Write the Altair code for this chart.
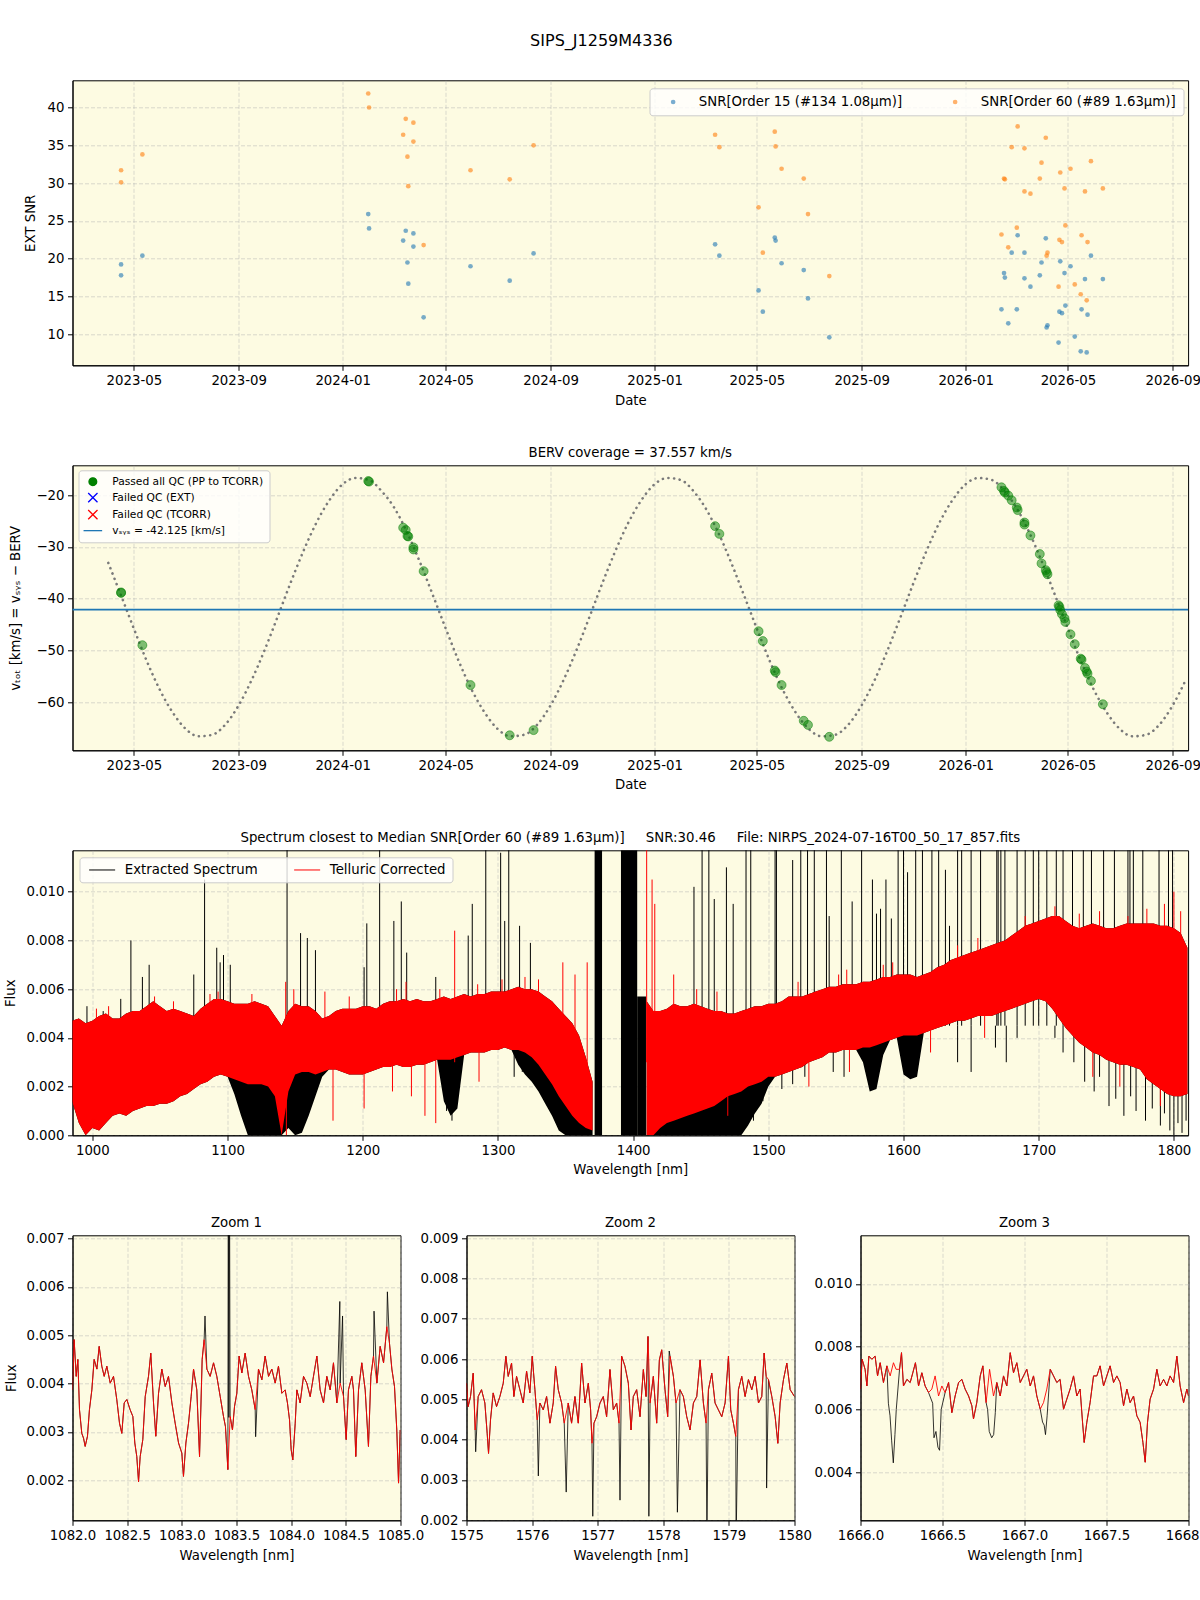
import altair as alt
import pandas as pd

FONT = "DejaVu Sans"
BG = "#fdfbe2"

# ---------------- observations (one row per exposure) ----------------
obs_date = ["2023/04/16", "2023/04/16", "2023/05/11",
            "2024/01/31", "2024/02/01", "2024/03/12", "2024/03/15", "2024/03/17", "2024/03/18",
            "2024/03/24", "2024/03/24", "2024/04/05", "2024/05/30", "2024/07/15", "2024/08/12",
            "2025/03/13", "2025/03/18", "2025/05/03", "2025/05/08", "2025/05/22", "2025/05/23",
            "2025/05/30", "2025/06/25", "2025/06/30", "2025/07/25",
            "2026/02/12", "2026/02/15", "2026/02/16", "2026/02/20", "2026/02/24", "2026/03/02",
            "2026/03/03", "2026/03/11", "2026/03/11", "2026/03/18", "2026/03/29", "2026/03/31",
            "2026/04/05", "2026/04/06", "2026/04/07", "2026/04/20", "2026/04/21", "2026/04/22",
            "2026/04/24", "2026/04/27", "2026/04/28", "2026/05/04", "2026/05/09", "2026/05/16",
            "2026/05/17", "2026/05/21", "2026/05/23", "2026/05/24", "2026/05/28", "2026/06/11"]
snr_order15 = [19.25, 17.8, 20.4,
               25.9, 24.0, 22.4, 23.7, 19.5, 16.7, 23.35, 21.6, 12.25, 19.0, 17.1, 20.7,
               21.9, 20.4, 15.8, 13.0, 22.8, 22.4, 19.4, 18.5, 14.75, 9.6,
               13.3, 18.1, 17.5, 11.45, 20.8, 13.3, 23.1, 20.8, 17.4, 16.3, 17.8, 19.5,
               22.7, 10.9, 11.2, 8.9, 13.0, 19.65, 12.8, 18.1, 13.8, 19.0, 9.7, 7.75,
               13.3, 17.3, 7.6, 12.6, 20.4, 17.3]
snr_order60 = [31.7, 30.1, 33.8,
               41.85, 40.0, 36.4, 38.5, 33.5, 29.6, 38.0, 35.5, 21.8, 31.7, 30.5, 35.0,
               36.4, 34.75, 26.8, 20.8, 36.8, 34.85, 31.9, 30.6, 25.9, 17.7,
               23.2, 30.6, 30.5, 21.5, 34.75, 24.1, 37.5, 34.6, 28.9, 28.6, 30.6, 32.7,
               36.0, 20.4, 20.8, 16.3, 22.5, 31.4, 22.2, 29.3, 24.4, 31.9, 16.6, 15.3,
               23.1, 28.9, 14.5, 22.2, 32.9, 29.3]
v_tot = [-38.8, -38.9, -49.0,
         -17.3, -17.4, -26.3, -26.75, -27.9, -28.0, -30.1, -30.5, -34.7, -56.7, -66.4, -65.4,
         -26.0, -27.5, -46.3, -48.2, -53.9, -54.2, -56.7, -63.6, -64.4, -66.7,
         -18.5, -19.2, -19.5, -20.1, -21.0, -22.4, -22.9, -25.3, -25.7, -27.8, -31.4, -33.2,
         -34.5, -34.9, -35.3, -41.3, -41.6, -42.2, -43.0, -43.8, -44.5, -46.9, -48.8, -51.6,
         -51.8, -53.4, -54.1, -54.5, -55.9, -60.4]
v_sys = -42.125

# ---------------- BERV model curve (read twice a month) ----------------
curve_date = ["2023/04/01", "2023/04/16", "2023/05/01", "2023/05/16", "2023/06/01", "2023/06/16",
              "2023/07/01", "2023/07/16", "2023/08/01", "2023/08/16", "2023/09/01", "2023/09/16",
              "2023/10/01", "2023/10/16", "2023/11/01", "2023/11/16", "2023/12/01", "2023/12/16",
              "2024/01/01", "2024/01/16", "2024/02/01", "2024/02/16", "2024/03/01", "2024/03/16",
              "2024/04/01", "2024/04/16", "2024/05/01", "2024/05/16", "2024/06/01", "2024/06/16",
              "2024/07/01", "2024/07/16", "2024/08/01", "2024/08/16", "2024/09/01", "2024/09/16",
              "2024/10/01", "2024/10/16", "2024/11/01", "2024/11/16", "2024/12/01", "2024/12/16",
              "2025/01/01", "2025/01/16", "2025/02/01", "2025/02/16", "2025/03/01", "2025/03/16",
              "2025/04/01", "2025/04/16", "2025/05/01", "2025/05/16", "2025/06/01", "2025/06/16",
              "2025/07/01", "2025/07/16", "2025/08/01", "2025/08/16", "2025/09/01", "2025/09/16",
              "2025/10/01", "2025/10/16", "2025/11/01", "2025/11/16", "2025/12/01", "2025/12/16",
              "2026/01/01", "2026/01/16", "2026/02/01", "2026/02/16", "2026/03/01", "2026/03/16",
              "2026/04/01", "2026/04/16", "2026/05/01", "2026/05/16", "2026/06/01", "2026/06/16",
              "2026/07/01", "2026/07/16", "2026/08/01", "2026/08/16", "2026/09/01", "2026/09/16"]
curve_v = [-33.1, -39.4, -45.8, -52.0, -57.8, -62.1, -65.2, -66.6, -66.3, -64.4, -60.6, -55.8,
           -50.1, -43.8, -36.9, -30.8, -25.4, -21.1,
           -17.9, -16.7, -17.1, -19.3, -22.3, -27.0, -33.1, -39.4, -45.8, -52.0, -57.8, -62.1,
           -65.2, -66.6, -66.3, -64.4, -60.6, -55.8, -50.1, -43.8, -36.9, -30.8, -25.4, -21.1,
           -17.9, -16.7, -17.1, -19.3, -22.3, -27.0, -33.1, -39.4, -45.8, -52.0, -57.8, -62.1,
           -65.2, -66.6, -66.3, -64.4, -60.6, -55.8, -50.1, -43.8, -36.9, -30.8, -25.4, -21.1,
           -17.9, -16.7, -17.1, -19.3, -22.3, -27.0, -33.1, -39.4, -45.8, -52.0, -57.8, -62.1,
           -65.2, -66.6, -66.3, -64.4, -60.6, -55.8]

# ---------------- full spectrum envelopes ----------------
wl_a = [985, 990, 995, 1000, 1005, 1010, 1015, 1020, 1025, 1030, 1035, 1040, 1045, 1050, 1055,
        1060, 1065, 1070, 1075, 1080, 1085, 1090, 1095, 1100, 1105, 1110, 1115, 1120, 1125, 1130,
        1135, 1140, 1145, 1150, 1155, 1160, 1165, 1170, 1175, 1180, 1185, 1190, 1195, 1200, 1205,
        1210, 1215, 1220, 1225, 1230, 1235, 1240, 1245, 1250, 1255, 1260, 1265, 1270, 1275, 1280,
        1285, 1290, 1295, 1300, 1305, 1310, 1315, 1320, 1325, 1330, 1335, 1340, 1345, 1350, 1355,
        1360, 1365, 1370]
red_hi_a = [0.0047, 0.0048, 0.0046, 0.0047, 0.0049, 0.0050, 0.0048, 0.0048, 0.0050, 0.0051, 0.0051,
            0.0053, 0.0055, 0.0053, 0.0051, 0.0052, 0.0051, 0.0050, 0.0049, 0.0052, 0.0054, 0.0056,
            0.0056, 0.0055, 0.0054, 0.0054, 0.0054, 0.0055, 0.0054, 0.0053, 0.0049, 0.0045, 0.0051,
            0.0054, 0.0053, 0.0053, 0.0051, 0.0048, 0.0049, 0.0051, 0.0052, 0.0052, 0.0052, 0.0053,
            0.0053, 0.0052, 0.0054, 0.0055, 0.0055, 0.0056, 0.0055, 0.0056, 0.0055, 0.0055, 0.0056,
            0.0057, 0.0056, 0.0057, 0.0058, 0.0057, 0.0058, 0.0058, 0.0059, 0.0059, 0.0059, 0.0060,
            0.0061, 0.0060, 0.0060, 0.0059, 0.0057, 0.0055, 0.0052, 0.0049, 0.0046, 0.0041, 0.0032,
            0.0022]
red_lo_a = [0.0014, 0.0005, 0.0000, 0.0003, 0.0002, 0.0005, 0.0008, 0.0009, 0.0008, 0.0010, 0.0011,
            0.0012, 0.0012, 0.0013, 0.0013, 0.0014, 0.0016, 0.0017, 0.0019, 0.0021, 0.0022, 0.0024,
            0.0025, 0.0024, 0.0023, 0.0022, 0.0021, 0.0021, 0.0021, 0.0020, 0.0016, 0.0000, 0.0018,
            0.0025, 0.0026, 0.0026, 0.0025, 0.0026, 0.0027, 0.0027, 0.0026, 0.0025, 0.0025, 0.0025,
            0.0026, 0.0027, 0.0028, 0.0028, 0.0029, 0.0028, 0.0028, 0.0029, 0.0029, 0.0030, 0.0031,
            0.0031, 0.0031, 0.0032, 0.0033, 0.0034, 0.0034, 0.0034, 0.0035, 0.0035, 0.0036, 0.0035,
            0.0035, 0.0034, 0.0032, 0.0029, 0.0025, 0.0021, 0.0016, 0.0012, 0.0008, 0.0005, 0.0003,
            0.0002]
blk_lo_a = [0.0014, 0.0005, 0.0000, 0.0003, 0.0002, 0.0005, 0.0008, 0.0009, 0.0008, 0.0010, 0.0011,
            0.0012, 0.0012, 0.0013, 0.0013, 0.0014, 0.0016, 0.0017, 0.0019, 0.0021, 0.0022, 0.0024,
            0.0025, 0.0024, 0.0017, 0.0008, 0.0000, 0.0000, 0.0000, 0.0000, 0.0000, 0.0000, 0.0003,
            0.0000, 0.0001, 0.0008, 0.0016, 0.0024, 0.0027, 0.0027, 0.0026, 0.0025, 0.0025, 0.0025,
            0.0026, 0.0027, 0.0028, 0.0028, 0.0029, 0.0028, 0.0028, 0.0029, 0.0029, 0.0030, 0.0031,
            0.0014, 0.0008, 0.0011, 0.0033, 0.0034, 0.0034, 0.0034, 0.0035, 0.0035, 0.0036, 0.0035,
            0.0029, 0.0025, 0.0022, 0.0018, 0.0013, 0.0008, 0.0002, 0.0000, 0.0000, 0.0000, 0.0000,
            0.0000]
wl_b = [1410, 1415, 1420, 1425, 1430, 1435, 1440, 1445, 1450, 1455, 1460, 1465, 1470, 1475, 1480,
        1485, 1490, 1495, 1500, 1505, 1510, 1515, 1520, 1525, 1530, 1535, 1540, 1545, 1550, 1555,
        1560, 1565, 1570, 1575, 1580, 1585, 1590, 1595, 1600, 1605, 1610, 1615, 1620, 1625, 1630,
        1635, 1640, 1645, 1650, 1655, 1660, 1665, 1670, 1675, 1680, 1685, 1690, 1695, 1700, 1705,
        1710, 1715, 1720, 1725, 1730, 1735, 1740, 1745, 1750, 1755, 1760, 1765, 1770, 1775, 1780,
        1785, 1790, 1795, 1800, 1805, 1810]
red_hi_b = [0.0055, 0.0051, 0.0051, 0.0052, 0.0054, 0.0053, 0.0053, 0.0054, 0.0053, 0.0052, 0.0051,
            0.0051, 0.0050, 0.0050, 0.0051, 0.0052, 0.0053, 0.0053, 0.0054, 0.0054, 0.0055, 0.0057,
            0.0057, 0.0057, 0.0058, 0.0059, 0.0060, 0.0061, 0.0061, 0.0062, 0.0062, 0.0062, 0.0063,
            0.0063, 0.0064, 0.0065, 0.0065, 0.0066, 0.0066, 0.0066, 0.0065, 0.0066, 0.0067, 0.0069,
            0.0070, 0.0072, 0.0073, 0.0074, 0.0075, 0.0076, 0.0077, 0.0078, 0.0079, 0.0080, 0.0082,
            0.0084, 0.0086, 0.0087, 0.0088, 0.0089, 0.0090, 0.0090, 0.0088, 0.0086, 0.0085, 0.0086,
            0.0087, 0.0086, 0.0085, 0.0085, 0.0086, 0.0087, 0.0087, 0.0087, 0.0087, 0.0087, 0.0086,
            0.0086, 0.0085, 0.0083, 0.0077]
red_lo_b = [0.0000, 0.0000, 0.0003, 0.0005, 0.0006, 0.0007, 0.0008, 0.0009, 0.0010, 0.0011, 0.0012,
            0.0014, 0.0016, 0.0017, 0.0018, 0.0020, 0.0021, 0.0022, 0.0024, 0.0024, 0.0025, 0.0026,
            0.0027, 0.0028, 0.0030, 0.0031, 0.0032, 0.0034, 0.0034, 0.0035, 0.0035, 0.0035, 0.0036,
            0.0036, 0.0037, 0.0038, 0.0039, 0.0040, 0.0041, 0.0041, 0.0041, 0.0042, 0.0043, 0.0044,
            0.0045, 0.0046, 0.0047, 0.0047, 0.0048, 0.0049, 0.0049, 0.0049, 0.0050, 0.0051, 0.0052,
            0.0053, 0.0054, 0.0055, 0.0056, 0.0055, 0.0052, 0.0048, 0.0044, 0.0041, 0.0038, 0.0036,
            0.0034, 0.0033, 0.0031, 0.0030, 0.0029, 0.0029, 0.0028, 0.0027, 0.0023, 0.0021, 0.0019,
            0.0017, 0.0016, 0.0016, 0.0017]
blk_lo_b = [0.0000, 0.0000, 0.0000, 0.0000, 0.0000, 0.0000, 0.0000, 0.0000, 0.0000, 0.0000, 0.0000,
            0.0000, 0.0000, 0.0000, 0.0000, 0.0004, 0.0009, 0.0013, 0.0020, 0.0024, 0.0025, 0.0026,
            0.0027, 0.0028, 0.0030, 0.0031, 0.0032, 0.0034, 0.0034, 0.0035, 0.0035, 0.0035, 0.0030,
            0.0018, 0.0019, 0.0033, 0.0039, 0.0040, 0.0025, 0.0023, 0.0024, 0.0042, 0.0043, 0.0044,
            0.0045, 0.0046, 0.0047, 0.0047, 0.0048, 0.0049, 0.0049, 0.0049, 0.0050, 0.0051, 0.0052,
            0.0053, 0.0054, 0.0055, 0.0056, 0.0055, 0.0052, 0.0048, 0.0044, 0.0041, 0.0038, 0.0036,
            0.0034, 0.0033, 0.0031, 0.0030, 0.0029, 0.0029, 0.0028, 0.0027, 0.0023, 0.0021, 0.0019,
            0.0017, 0.0016, 0.0016, 0.0017]
# deep narrow absorption lines of the extracted spectrum below the corrected band
blk_dip_wl = [1262, 1266, 1268, 1312, 1318, 1446, 1452, 1458, 1463, 1468, 1474, 1479, 1486, 1489,
              1492, 1496, 1510, 1518, 1527, 1548, 1556, 1640, 1650, 1668, 1676, 1684, 1712, 1718,
              1726, 1734, 1741, 1745, 1752, 1757, 1763, 1768, 1772, 1779, 1784, 1790, 1793, 1797,
              1800, 1803, 1806, 1809]
blk_dip_lo = [0.0010, 0.0006, 0.0012, 0.0024, 0.0026, 0.0005, 0.0003, 0.0002, 0.0006, 0.0004,
              0.0007, 0.0003, 0.0009, 0.0006, 0.0011, 0.0014, 0.0019, 0.0021, 0.0024, 0.0026,
              0.0024, 0.0030, 0.0026, 0.0036, 0.0030, 0.0040, 0.0040, 0.0034, 0.0030, 0.0022,
              0.0018, 0.0024, 0.0012, 0.0015, 0.0008, 0.0016, 0.0010, 0.0006, 0.0011, 0.0004,
              0.0009, 0.0002, 0.0000, 0.0005, 0.0001, 0.0006]
# saturated black blocks of the extracted spectrum (no telluric correction there)
blk_col_start = [1371.5, 1391.0, 1403.0]
blk_col_end = [1377.0, 1403.0, 1409.5]
blk_col_top = [0.0117, 0.0117, 0.0057]
# emission spikes of the extracted spectrum
blk_spike_wl = [996, 1008, 1021, 1028.5, 1037, 1042, 1075, 1083, 1092, 1094.5, 1097, 1102, 1144,
                1154, 1159, 1165, 1201, 1203, 1212.5, 1223, 1228.5, 1232.5, 1254, 1278, 1281, 1291,
                1302, 1305, 1308, 1316, 1324, 1445, 1451, 1456, 1460, 1469, 1474, 1483.5, 1487,
                1505, 1506, 1518, 1524, 1529, 1534, 1543, 1545, 1554, 1562, 1569, 1577, 1580, 1583,
                1587, 1591, 1596, 1600, 1603, 1609, 1614, 1621, 1626, 1631, 1634, 1640, 1643, 1650,
                1657, 1669, 1670, 1672, 1675, 1684, 1690, 1696, 1700, 1706, 1713, 1718, 1725, 1733,
                1739, 1748, 1756, 1766, 1767.5, 1770, 1777, 1789, 1796, 1799]
blk_spike_top = [0.0053, 0.0051, 0.0056, 0.0080, 0.0065, 0.0070, 0.0066, 0.0105, 0.0077, 0.0071,
                 0.0074, 0.0070, 0.0125, 0.0083, 0.0081, 0.0076, 0.0069, 0.0087, 0.0125, 0.0088,
                 0.0096, 0.0075, 0.0065, 0.0082, 0.0095, 0.0125, 0.0116, 0.0088, 0.0125, 0.0086,
                 0.0079, 0.0102, 0.0125, 0.0125, 0.0097, 0.0110, 0.0095, 0.0125, 0.0125, 0.0125,
                 0.0125, 0.0113, 0.0125, 0.0125, 0.0125, 0.0125, 0.0090, 0.0125, 0.0096, 0.0125,
                 0.0105, 0.0091, 0.0093, 0.0105, 0.0089, 0.0125, 0.0125, 0.0108, 0.0125, 0.0125,
                 0.0125, 0.0125, 0.0109, 0.0086, 0.0125, 0.0125, 0.0125, 0.0125, 0.0125, 0.0125,
                 0.0125, 0.0125, 0.0125, 0.0125, 0.0125, 0.0125, 0.0125, 0.0125, 0.0125, 0.0125,
                 0.0125, 0.0125, 0.0125, 0.0125, 0.0125, 0.0125, 0.0125, 0.0125, 0.0125, 0.0125,
                 0.0125]
# spikes of the telluric-corrected spectrum beyond the band (low end, high end)
red_spike_wl = [1003, 1012, 1046, 1060, 1087, 1093, 1118, 1143, 1149, 1172, 1190, 1225, 1232, 1257,
                1268, 1285, 1303, 1320, 1330, 1348, 1357, 1366, 1410, 1414, 1416, 1430, 1447, 1462,
                1522, 1552, 1558, 1585, 1592, 1640, 1655, 1690, 1712, 1730, 1745, 1766, 1780, 1793,
                1800, 1805,
                1143.5, 1178, 1201, 1222, 1236, 1246, 1254, 1286, 1470, 1530, 1560, 1620, 1660, 1740,
                1760, 1790]
red_spike_lo = [0.0040, 0.0040, 0.0045, 0.0045, 0.0045, 0.0045, 0.0045, 0.0030, 0.0045, 0.0040,
                0.0045, 0.0045, 0.0045, 0.0045, 0.0030, 0.0045, 0.0050, 0.0050, 0.0050, 0.0030,
                0.0020, 0.0010, 0.0030, 0.0030, 0.0030, 0.0040, 0.0040, 0.0040, 0.0045, 0.0050,
                0.0050, 0.0055, 0.0055, 0.0060, 0.0065, 0.0070, 0.0075, 0.0075, 0.0075, 0.0060,
                0.0075, 0.0075, 0.0060, 0.0060,
                0.0000, 0.0006, 0.0011, 0.0018, 0.0016, 0.0008, 0.0005, 0.0022, 0.0008, 0.0020,
                0.0026, 0.0034, 0.0040, 0.0024, 0.0020, 0.0012]
red_spike_hi = [0.0052, 0.0053, 0.0057, 0.0055, 0.0058, 0.0059, 0.0058, 0.0063, 0.0060, 0.0059,
                0.0057, 0.0060, 0.0063, 0.0060, 0.0084, 0.0062, 0.0064, 0.0065, 0.0064, 0.0071,
                0.0066, 0.0071, 0.0125, 0.0105, 0.0095, 0.0066, 0.0060, 0.0059, 0.0063, 0.0066,
                0.0068, 0.0070, 0.0071, 0.0078, 0.0081, 0.0090, 0.0094, 0.0091, 0.0092, 0.0090,
                0.0093, 0.0095, 0.0100, 0.0092,
                0.0040, 0.0035, 0.0035, 0.0035, 0.0035, 0.0040, 0.0040, 0.0040, 0.0030, 0.0040,
                0.0045, 0.0050, 0.0055, 0.0045, 0.0040, 0.0035]

# ---------------- zoom 1 (1082-1085 nm) ----------------
z1_wl = [1082.000, 1082.015, 1082.034, 1082.049, 1082.064, 1082.085, 1082.101, 1082.116, 1082.137,
         1082.155, 1082.177, 1082.198, 1082.223, 1082.244, 1082.268, 1082.290, 1082.314, 1082.345,
         1082.375, 1082.405, 1082.430, 1082.451, 1082.473, 1082.497, 1082.527, 1082.552, 1082.570,
         1082.588, 1082.604, 1082.619, 1082.643, 1082.665, 1082.695, 1082.716, 1082.741, 1082.762,
         1082.787, 1082.817, 1082.848, 1082.878, 1082.909, 1082.939, 1082.970, 1083.000, 1083.015,
         1083.037, 1083.061, 1083.085, 1083.107, 1083.137, 1083.162, 1083.186, 1083.204, 1083.229,
         1083.259, 1083.290, 1083.320, 1083.351, 1083.381, 1083.399, 1083.421, 1083.442, 1083.463,
         1083.482, 1083.503, 1083.524, 1083.549, 1083.579, 1083.610, 1083.640, 1083.671, 1083.701,
         1083.732, 1083.762, 1083.793, 1083.823, 1083.854, 1083.884, 1083.915, 1083.945, 1083.966,
         1083.985, 1084.000, 1084.015, 1084.037, 1084.052, 1084.082, 1084.113, 1084.143, 1084.174,
         1084.204, 1084.235, 1084.265, 1084.296, 1084.326, 1084.357, 1084.387, 1084.418, 1084.448,
         1084.479, 1084.503, 1084.524, 1084.555, 1084.570, 1084.591, 1084.616, 1084.646, 1084.677,
         1084.707, 1084.729, 1084.753, 1084.784, 1084.814, 1084.845, 1084.875, 1084.899, 1084.921,
         1084.945, 1084.966, 1084.982, 1084.997]
z1_red = [0.00387, 0.00491, 0.00415, 0.00450, 0.00346, 0.00297, 0.00287, 0.00270, 0.00291, 0.00346,
          0.00387, 0.00450, 0.00430, 0.00477, 0.00436, 0.00415, 0.00436, 0.00401, 0.00415, 0.00367,
          0.00318, 0.00297, 0.00360, 0.00367, 0.00346, 0.00332, 0.00277, 0.00249, 0.00197, 0.00249,
          0.00284, 0.00373, 0.00415, 0.00463, 0.00360, 0.00291, 0.00380, 0.00430, 0.00394, 0.00415,
          0.00360, 0.00318, 0.00277, 0.00256, 0.00208, 0.00277, 0.00318, 0.00373, 0.00430, 0.00387,
          0.00249, 0.00450, 0.00491, 0.00430, 0.00415, 0.00443, 0.00415, 0.00373, 0.00332, 0.00311,
          0.00222, 0.00332, 0.00304, 0.00353, 0.00380, 0.00457, 0.00422, 0.00463, 0.00415, 0.00387,
          0.00346, 0.00430, 0.00408, 0.00457, 0.00415, 0.00430, 0.00401, 0.00436, 0.00380, 0.00387,
          0.00360, 0.00325, 0.00263, 0.00242, 0.00318, 0.00387, 0.00360, 0.00415, 0.00401, 0.00373,
          0.00415, 0.00457, 0.00387, 0.00360, 0.00415, 0.00387, 0.00443, 0.00360, 0.00401, 0.00373,
          0.00284, 0.00387, 0.00415, 0.00387, 0.00249, 0.00387, 0.00443, 0.00387, 0.00270, 0.00415,
          0.00457, 0.00401, 0.00477, 0.00443, 0.00518, 0.00484, 0.00430, 0.00394, 0.00304, 0.00194,
          0.00304]
z1_blk_wl = [1083.212, 1083.425, 1083.430, 1083.436, 1083.441, 1083.675, 1084.445, 1084.470,
             1084.758, 1084.880]
z1_blk = [0.0054, 0.0085, 0.0033, 0.0085, 0.0036, 0.0029, 0.0057, 0.0054, 0.0055, 0.0059]

# ---------------- zoom 2 (1575-1580 nm) ----------------
z2_wl = [1575.000, 1575.025, 1575.061, 1575.102, 1575.132, 1575.178, 1575.229, 1575.280, 1575.315,
         1575.336, 1575.366, 1575.407, 1575.458, 1575.509, 1575.560, 1575.600, 1575.636, 1575.687,
         1575.722, 1575.763, 1575.814, 1575.865, 1575.916, 1575.966, 1576.002, 1576.043, 1576.078,
         1576.119, 1576.170, 1576.221, 1576.272, 1576.322, 1576.358, 1576.399, 1576.450, 1576.490,
         1576.551, 1576.602, 1576.653, 1576.704, 1576.755, 1576.806, 1576.857, 1576.892, 1576.913,
         1576.943, 1576.984, 1577.035, 1577.085, 1577.136, 1577.187, 1577.238, 1577.289, 1577.325,
         1577.365, 1577.416, 1577.467, 1577.508, 1577.543, 1577.594, 1577.645, 1577.696, 1577.737,
         1577.767, 1577.798, 1577.848, 1577.899, 1577.940, 1577.976, 1578.026, 1578.067, 1578.103,
         1578.154, 1578.194, 1578.255, 1578.306, 1578.357, 1578.408, 1578.459, 1578.510, 1578.561,
         1578.611, 1578.652, 1578.688, 1578.739, 1578.789, 1578.840, 1578.891, 1578.942, 1578.993,
         1579.028, 1579.069, 1579.105, 1579.145, 1579.196, 1579.247, 1579.298, 1579.349, 1579.400,
         1579.451, 1579.501, 1579.537, 1579.568, 1579.603, 1579.654, 1579.705, 1579.746, 1579.781,
         1579.832, 1579.883, 1579.934, 1580.000]
z2_red = [0.00540, 0.00482, 0.00507, 0.00565, 0.00424, 0.00507, 0.00524, 0.00491, 0.00416, 0.00366,
          0.00449, 0.00516, 0.00482, 0.00507, 0.00540, 0.00607, 0.00557, 0.00590, 0.00507, 0.00557,
          0.00524, 0.00491, 0.00570, 0.00516, 0.00607, 0.00524, 0.00449, 0.00491, 0.00474, 0.00507,
          0.00441, 0.00491, 0.00582, 0.00524, 0.00491, 0.00441, 0.00491, 0.00441, 0.00507, 0.00441,
          0.00590, 0.00491, 0.00540, 0.00474, 0.00391, 0.00441, 0.00457, 0.00491, 0.00507, 0.00457,
          0.00574, 0.00474, 0.00491, 0.00441, 0.00607, 0.00582, 0.00540, 0.00424, 0.00507, 0.00524,
          0.00457, 0.00574, 0.00507, 0.00656, 0.00491, 0.00557, 0.00441, 0.00598, 0.00623, 0.00524,
          0.00457, 0.00607, 0.00557, 0.00491, 0.00524, 0.00507, 0.00457, 0.00424, 0.00491, 0.00507,
          0.00598, 0.00491, 0.00441, 0.00524, 0.00565, 0.00491, 0.00474, 0.00457, 0.00491, 0.00607,
          0.00474, 0.00441, 0.00408, 0.00524, 0.00557, 0.00507, 0.00549, 0.00524, 0.00557, 0.00491,
          0.00507, 0.00615, 0.00557, 0.00549, 0.00507, 0.00457, 0.00391, 0.00491, 0.00549, 0.00590,
          0.00524, 0.00507]
z2_blk_wl = [1575.140, 1576.095, 1576.520, 1576.925, 1577.340, 1577.780, 1578.090, 1578.215,
             1578.665, 1579.110, 1579.575]
z2_blk = [0.0037, 0.0031, 0.0027, 0.0021, 0.0025, 0.0021, 0.0062, 0.0022, 0.0015, 0.0015, 0.0028]

# ---------------- zoom 3 (1666-1668 nm) ----------------
z3_wl = [1666.000, 1666.010, 1666.028, 1666.039, 1666.051, 1666.069, 1666.089, 1666.104, 1666.120,
         1666.140, 1666.161, 1666.181, 1666.201, 1666.217, 1666.238, 1666.250, 1666.262, 1666.283,
         1666.303, 1666.319, 1666.335, 1666.354, 1666.374, 1666.394, 1666.415, 1666.435, 1666.455,
         1666.476, 1666.496, 1666.516, 1666.537, 1666.557, 1666.577, 1666.598, 1666.618, 1666.638,
         1666.659, 1666.679, 1666.689, 1666.709, 1666.730, 1666.746, 1666.766, 1666.787, 1666.811,
         1666.831, 1666.852, 1666.872, 1666.892, 1666.913, 1666.933, 1666.953, 1666.974, 1666.994,
         1667.014, 1667.035, 1667.055, 1667.075, 1667.096, 1667.116, 1667.136, 1667.157, 1667.177,
         1667.197, 1667.217, 1667.238, 1667.258, 1667.278, 1667.299, 1667.319, 1667.339, 1667.354,
         1667.364, 1667.380, 1667.400, 1667.421, 1667.441, 1667.461, 1667.482, 1667.502, 1667.522,
         1667.543, 1667.563, 1667.583, 1667.604, 1667.624, 1667.644, 1667.665, 1667.685, 1667.705,
         1667.722, 1667.736, 1667.750, 1667.766, 1667.787, 1667.807, 1667.827, 1667.848, 1667.868,
         1667.888, 1667.909, 1667.929, 1667.949, 1667.970, 1667.990, 1668.000]
z3_red = [0.00665, 0.00760, 0.00728, 0.00675, 0.00770, 0.00760, 0.00770, 0.00707, 0.00749, 0.00686,
          0.00739, 0.00707, 0.00749, 0.00728, 0.00728, 0.00781, 0.00675, 0.00696, 0.00686, 0.00717,
          0.00749, 0.00675, 0.00717, 0.00675, 0.00654, 0.00665, 0.00707, 0.00643, 0.00675, 0.00654,
          0.00686, 0.00590, 0.00643, 0.00686, 0.00696, 0.00665, 0.00643, 0.00612, 0.00570, 0.00622,
          0.00707, 0.00739, 0.00622, 0.00728, 0.00643, 0.00686, 0.00643, 0.00707, 0.00675, 0.00781,
          0.00717, 0.00749, 0.00686, 0.00707, 0.00728, 0.00675, 0.00707, 0.00643, 0.00601, 0.00622,
          0.00665, 0.00728, 0.00707, 0.00686, 0.00696, 0.00601, 0.00633, 0.00665, 0.00707, 0.00643,
          0.00665, 0.00559, 0.00495, 0.00559, 0.00622, 0.00707, 0.00707, 0.00739, 0.00675, 0.00707,
          0.00739, 0.00686, 0.00707, 0.00686, 0.00612, 0.00665, 0.00622, 0.00643, 0.00580, 0.00559,
          0.00495, 0.00432, 0.00559, 0.00633, 0.00665, 0.00728, 0.00675, 0.00696, 0.00675, 0.00707,
          0.00686, 0.00770, 0.00675, 0.00622, 0.00665, 0.00643]
z3_blk_windows = [(1666.165, 1666.225), (1666.43, 1666.50), (1666.77, 1666.83), (1667.105, 1667.145)]
z3_blk_wl = [1666.170, 1666.180, 1666.190, 1666.200, 1666.210, 1666.218,
             1666.440, 1666.448, 1666.460, 1666.472, 1666.482, 1666.492,
             1666.775, 1666.785, 1666.800, 1666.812, 1666.822,
             1667.110, 1667.120, 1667.128, 1667.138]
z3_blk = [0.0062, 0.0058, 0.0050, 0.0043, 0.0052, 0.0060,
          0.0062, 0.0051, 0.0053, 0.0048, 0.0047, 0.0060,
          0.0060, 0.0053, 0.0051, 0.0052, 0.0059,
          0.0056, 0.0055, 0.0052, 0.0058]

# ---------------- labels ----------------
LAB15 = "SNR[Order 15 (#134 1.08μm)]"
LAB60 = "SNR[Order 60 (#89 1.63μm)]"
QC_LABELS = ["Passed all QC (PP to TCORR)", "Failed QC (EXT)", "Failed QC (TCORR)",
             "vₛᵧₛ = -42.125 [km/s]"]
SPEC_LABELS = ["Extracted Spectrum", "Telluric Corrected"]
NB = "\u00a0"
SPEC_TITLE = ("Spectrum closest to Median SNR[Order 60 (#89 1.63μm)]" + " " + NB * 4 +
              "SNR:30.46" + " " + NB * 4 + "File: NIRPS_2024-07-16T00_50_17_857.fits")

# =====================================================================
W = 1115.6
H = 285
PAD_L = 72.5
PAD_T = 80.3
LEGEND_BOX = dict(fillColor="rgba(255,255,255,0.8)", strokeColor="#cccccc", cornerRadius=3)

date_ticks = [alt.DateTime(year=y, month=m, date=1) for y, m in
              [(2023, 5), (2023, 9), (2024, 1), (2024, 5), (2024, 9), (2025, 1), (2025, 5),
               (2025, 9), (2026, 1), (2026, 5), (2026, 9)]]
date_domain = [alt.DateTime(year=2023, month=2, date=18), alt.DateTime(year=2026, month=9, date=19)]


def x_date(title_y=34):
    return alt.X("date:T", scale=alt.Scale(domain=date_domain),
                 axis=alt.Axis(values=date_ticks, format="%Y-%m", title="Date", labelAngle=0,
                               titleY=title_y, titleBaseline="middle"))


# ---- panel 1: SNR ----
snr_long = pd.concat([
    pd.DataFrame({"date": obs_date, "snr": snr_order15, "series": LAB15}),
    pd.DataFrame({"date": obs_date, "snr": snr_order60, "series": LAB60}),
])
p1 = alt.Chart(snr_long).mark_circle(size=22, opacity=0.6).encode(
    x=x_date(35.5),
    y=alt.Y("snr:Q", scale=alt.Scale(domain=[5.9, 43.6], nice=False, zero=False),
            axis=alt.Axis(values=[10, 15, 20, 25, 30, 35, 40], title="EXT SNR", titleX=-42,
                          titleBaseline="middle")),
    color=alt.Color("series:N", scale=alt.Scale(domain=[LAB15, LAB60], range=["#1f77b4", "#ff7f0e"]),
                    legend=alt.Legend(title=None, orient="none", legendX=577, legendY=8,
                                      direction="horizontal", labelFontSize=13.3, symbolSize=22,
                                      symbolType="circle",
                                      padding=7, symbolOffset=10, labelOffset=19, columnPadding=36,
                                      labelLimit=500, **LEGEND_BOX)),
).properties(width=W, height=H)

# ---- panel 2: BERV ----
obs_df = pd.DataFrame({"date": obs_date, "v": v_tot, "qc": QC_LABELS[0]})
curve_df = pd.DataFrame({"date": curve_date, "v": curve_v})
vsys_df = pd.DataFrame({"v": [v_sys]})
X_PATH = "M-1.2,-1.2L1.2,1.2M-1.2,1.2L1.2,-1.2"
LINE_PATH = "M-2.4,0L2.4,0"
qc_colors = ["#008000", "#0000ff", "#ff0000", "#1f77b4"]
leg2 = alt.Legend(title=None, orient="none", legendX=6, legendY=5, direction="vertical",
                  labelFontSize=10.7, symbolSize=60, symbolStrokeWidth=1.3, rowPadding=2,
                  padding=6, symbolOffset=3, labelOffset=14, labelLimit=400, **LEGEND_BOX)


def y_v():
    return alt.Y("v:Q", scale=alt.Scale(domain=[-69.3, -14.25], nice=False, zero=False),
                 axis=alt.Axis(values=[-60, -50, -40, -30, -20],
                               title="vₜₒₜ [km/s] = vₛᵧₛ − BERV", titleX=-57.3,
                               titleBaseline="middle"))


curve = alt.Chart(curve_df).mark_line(color="#7a7a7a", strokeWidth=2.6, strokeDash=[0.1, 5.6],
                                      strokeCap="round", interpolate="monotone").encode(
    x=x_date(), y=y_v())
vline = alt.Chart(vsys_df).mark_rule(color="#1f77b4", strokeWidth=1.6).encode(y=y_v())
pts = alt.Chart(obs_df).mark_point(size=80, filled=False, fillOpacity=0.5, strokeOpacity=0.5,
                                   strokeWidth=1).encode(
    x=x_date(), y=y_v(),
    fill=alt.Fill("qc:N", scale=alt.Scale(domain=QC_LABELS, range=qc_colors), legend=leg2),
    stroke=alt.Stroke("qc:N", scale=alt.Scale(domain=QC_LABELS, range=qc_colors), legend=leg2),
    shape=alt.Shape("qc:N", scale=alt.Scale(domain=QC_LABELS,
                                            range=["circle", X_PATH, X_PATH, LINE_PATH]), legend=leg2),
)
p2 = alt.layer(curve, vline, pts).properties(
    width=W, height=H,
    title=alt.TitleParams("BERV coverage = 37.557 km/s", offset=6, frame="group"))

# ---- panel 3: spectrum ----
band = pd.concat([
    pd.DataFrame({"wl": wl_a, "hi": red_hi_a, "lo": red_lo_a, "blo": blk_lo_a, "seg": "a"}),
    pd.DataFrame({"wl": wl_b, "hi": red_hi_b, "lo": red_lo_b, "blo": blk_lo_b, "seg": "b"}),
])
cols_df = pd.DataFrame({"wl": blk_col_start, "wl2": blk_col_end, "lo": [0.0] * len(blk_col_start),
                        "hi": blk_col_top})
bspk_df = pd.DataFrame({"wl": blk_spike_wl, "lo": [0.0045] * len(blk_spike_wl), "hi": blk_spike_top,
                        "spec": SPEC_LABELS[0]})
bdip_df = pd.DataFrame({"wl": blk_dip_wl, "lo": blk_dip_lo, "hi": [0.0045] * len(blk_dip_wl)})
rspk_df = pd.DataFrame({"wl": red_spike_wl, "lo": red_spike_lo, "hi": red_spike_hi,
                        "spec": SPEC_LABELS[1]})
SPEC_X = dict(scale=alt.Scale(domain=[985.3, 1810.5], nice=False, zero=False),
              axis=alt.Axis(values=[1000, 1100, 1200, 1300, 1400, 1500, 1600, 1700, 1800], format="d",
                            title="Wavelength [nm]", titleY=34.4, titleBaseline="middle"))
SPEC_Y = dict(scale=alt.Scale(domain=[0, 0.0117], nice=False, zero=False),
              axis=alt.Axis(values=[0, 0.002, 0.004, 0.006, 0.008, 0.010], format=".3f",
                            title="Flux", titleX=-62.4, titleBaseline="middle"))
spec_color = alt.Color("spec:N", scale=alt.Scale(domain=SPEC_LABELS, range=["black", "red"]),
                       legend=alt.Legend(title=None, orient="none", legendX=7, legendY=7,
                                         direction="horizontal", symbolType="M-2.6,0L2.6,0",
                                         symbolSize=100, symbolStrokeWidth=1, labelFontSize=13.3,
                                         padding=6, symbolOffset=10, labelOffset=16, columnPadding=32,
                                         labelLimit=400, **LEGEND_BOX))

blk_band = alt.Chart(band).mark_area(color="black", clip=True).encode(
    x=alt.X("wl:Q", **SPEC_X), y=alt.Y("blo:Q", **SPEC_Y), y2="hi:Q", detail="seg:N")
blk_cols = alt.Chart(cols_df).mark_rect(color="black", clip=True).encode(
    x=alt.X("wl:Q", **SPEC_X), x2="wl2:Q", y=alt.Y("lo:Q", **SPEC_Y), y2="hi:Q")
blk_dip = alt.Chart(bdip_df).mark_rule(color="black", strokeWidth=1, clip=True).encode(
    x=alt.X("wl:Q", **SPEC_X), y=alt.Y("lo:Q", **SPEC_Y), y2="hi:Q")
blk_spk = alt.Chart(bspk_df).mark_rule(strokeWidth=1, clip=True).encode(
    x=alt.X("wl:Q", **SPEC_X), y=alt.Y("lo:Q", **SPEC_Y), y2="hi:Q", color=spec_color)
red_band = alt.Chart(band).mark_area(color="#ff0000", clip=True).encode(
    x=alt.X("wl:Q", **SPEC_X), y=alt.Y("lo:Q", **SPEC_Y), y2="hi:Q", detail="seg:N")
red_spk = alt.Chart(rspk_df).mark_rule(strokeWidth=1, clip=True).encode(
    x=alt.X("wl:Q", **SPEC_X), y=alt.Y("lo:Q", **SPEC_Y), y2="hi:Q", color=spec_color)
p3 = alt.layer(blk_band, blk_cols, blk_dip, blk_spk, red_band, red_spk).properties(
    width=W, height=H, title=alt.TitleParams(SPEC_TITLE, offset=6, frame="group"))


# ---- zoom panels ----
def merge_black(red_wl, red_f, windows, extra_wl, extra_f):
    pts_ = [(w, f) for w, f in zip(red_wl, red_f) if not any(a <= w <= b for a, b in windows)]
    pts_ += list(zip(extra_wl, extra_f))
    pts_.sort()
    return pd.DataFrame({"wl": [p[0] for p in pts_], "f": [p[1] for p in pts_]})


def zoom_panel(red_wl, red_f, blk_df, xdom, xvals, xfmt, ydom, yvals, title, ytitle, toff):
    xax = dict(values=xvals, format=xfmt, title="Wavelength [nm]", titleY=35,
               titleBaseline="middle")
    xs = alt.X("wl:Q", scale=alt.Scale(domain=xdom, nice=False, zero=False), axis=alt.Axis(**xax))
    if ytitle:
        yax = alt.Axis(values=yvals, format=".3f", title=ytitle, titleX=-61.5, titleBaseline="middle")
    else:
        yax = alt.Axis(values=yvals, format=".3f", title=None)
    ys = alt.Y("f:Q", scale=alt.Scale(domain=ydom, nice=False, zero=False), axis=yax)
    blk = alt.Chart(blk_df).mark_line(color="black", strokeWidth=0.8, clip=True).encode(x=xs, y=ys)
    red = alt.Chart(pd.DataFrame({"wl": red_wl, "f": red_f})).mark_line(
        color="#ff0000", strokeWidth=0.9, clip=True).encode(x=xs, y=ys)
    return alt.layer(blk, red).properties(width=328, height=285,
                                          title=alt.TitleParams(title, offset=toff, frame="group"))


z1 = zoom_panel(z1_wl, z1_red, merge_black(z1_wl, z1_red, [], z1_blk_wl, z1_blk),
                [1082, 1085], [1082.0, 1082.5, 1083.0, 1083.5, 1084.0, 1084.5, 1085.0], ".1f",
                [0.00117, 0.00707], [0.002, 0.003, 0.004, 0.005, 0.006, 0.007], "Zoom 1", "Flux", 2)
z2 = zoom_panel(z2_wl, z2_red, merge_black(z2_wl, z2_red, [], z2_blk_wl, z2_blk),
                [1575, 1580], [1575, 1576, 1577, 1578, 1579, 1580], "d",
                [0.002, 0.00907], [0.002, 0.003, 0.004, 0.005, 0.006, 0.007, 0.008, 0.009],
                "Zoom 2", None, 2)
z3 = zoom_panel(z3_wl, z3_red, merge_black(z3_wl, z3_red, z3_blk_windows, z3_blk_wl, z3_blk),
                [1666, 1668], [1666.0, 1666.5, 1667.0, 1667.5, 1668.0], ".1f",
                [0.00247, 0.01155], [0.004, 0.006, 0.008, 0.010], "Zoom 3", None, 6)
bottom = alt.hconcat(z1, z2, z3, spacing=66, bounds="flush")

chart = alt.vconcat(p1, p2, p3, bottom, spacing=100, bounds="flush").resolve_scale(
    color="independent", fill="independent", stroke="independent", shape="independent"
).properties(
    title=alt.TitleParams("SIPS_J1259M4336", fontSize=16, offset=31, dx=-6),
    autosize=alt.AutoSizeParams(type="none"),
    padding={"left": PAD_L, "top": PAD_T, "right": 1200 - PAD_L, "bottom": 1600 - PAD_T},
).configure(font=FONT).configure_view(
    fill=BG, stroke="black", strokeWidth=1
).configure_axis(
    labelFont=FONT, titleFont=FONT, labelFontSize=13.3, titleFontSize=13.3,
    titleFontWeight="normal", labelColor="black", titleColor="black", tickColor="black",
    domainColor="black", tickSize=5, labelPadding=3.5, grid=True, gridColor="#b0b0b0",
    gridDash=[4, 2], gridOpacity=0.6, gridWidth=0.8, labelFlush=False, labelOverlap=False,
).configure_title(
    font=FONT, fontSize=13.3, fontWeight="normal", color="black", anchor="middle",
).configure_legend(
    labelFont=FONT, labelColor="black",
)

chart.save("out.html", embed_options={"renderer": "svg", "actions": False})
